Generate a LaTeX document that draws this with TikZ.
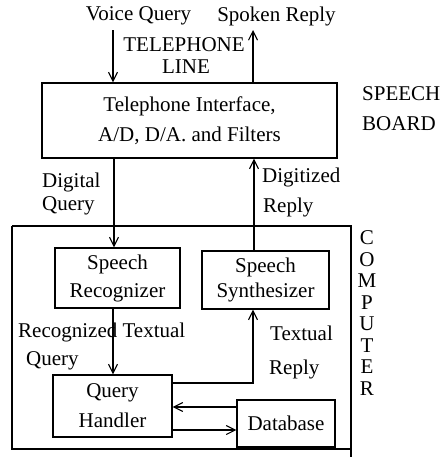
\documentclass[tikz,border=0pt]{standalone}
\usepackage{fontspec}
\setmainfont{Liberation Serif}
\usetikzlibrary{arrows.meta}
\begin{document}
\begin{tikzpicture}[x=1pt,y=-1pt,
  box/.style={draw,line width=1.1pt,inner sep=0pt,align=center},
  lbl/.style={inner sep=0pt},
  arr/.style={line width=1.1pt,-{Straight Barb[length=9pt,width=9pt]}},
  every node/.style={font=\fontsize{21}{28}\selectfont}]
\useasboundingbox (0,0) rectangle (447,461);
% boxes
\node[box,minimum width=295pt,minimum height=75pt] (tel) at (189.5,120.5)
  {Telephone Interface,\\[2pt]A/D, D/A. and Filters};
\draw[line width=1.1pt] (12,226) -- (351,226) -- (351,457);
\draw[line width=1.1pt] (12,226) -- (12,449) -- (351,449);
\node[box,minimum width=125pt,minimum height=60pt] (rec) at (117.5,278)
  {Speech\\Recognizer};
\node[box,minimum width=127pt,minimum height=58pt] (syn) at (265.5,280)
  {Speech\\[-3pt]Synthesizer};
\node[box,minimum width=119pt,minimum height=62pt] (qh) at (112.5,406)
  {Query\\[2pt]Handler};
\node[box,minimum width=98pt,minimum height=47pt] (db) at (286,423.5) {Database};
% external
\coordinate (vq) at (113,30);
\coordinate (sr) at (253,30);
\node[lbl] (tv) at (138.5,16) {Voice Query};
\node[lbl] (ts) at (276.5,16) {Spoken Reply};
\node[lbl] (tl1) at (184,45) {TELEPHONE};
\node[lbl] (tl2) at (186,67) {LINE};
\node[lbl,anchor=west] (sp1) at (362,94) {SPEECH};
\node[lbl,anchor=west] (sp2) at (362,124) {BOARD};
\draw[arr] (vq) -- (vq|-tel.north);
\draw[arr] (sr|-tel.north) -- (sr);
% digital
\draw[arr] (tel.south-|114,0) -- (rec.north-|114,0);
\node[lbl,anchor=west] (dq1) at (42,182) {Digital};
\node[lbl,anchor=west] (dq2) at (42,206) {Query};
\draw[arr] (syn.north-|254,0) -- (tel.south-|254,0);
\node[lbl,anchor=west] (dr1) at (262,177) {Digitized};
\node[lbl,anchor=west] (dr2) at (263,207) {Reply};
% recognized
\draw[arr] (rec.south-|113,0) -- (qh.north-|113,0);
\node[lbl,anchor=west] (rt1) at (18,332) {Recognized Textual};
\node[lbl,anchor=west] (rt2) at (26,361) {Query};
\draw[arr] (qh.east|-0,383) -- (253,383) -- (syn.south-|253,0);
\node[lbl,anchor=west] (tr1) at (270,333) {Textual};
\node[lbl,anchor=west] (tr2) at (269,369) {Reply};
% database
\draw[arr] (db.west|-0,407) -- (qh.east|-0,407);
\draw[arr] (qh.east|-0,430) -- (db.west|-0,430);
% COMPUTER
\foreach \ch [count=\i from 0] in {C,O,M,P,U,T,E,R}
  \node[lbl] (c\i) at (367,238+21.5*\i) {\ch};
\end{tikzpicture}
\end{document}
